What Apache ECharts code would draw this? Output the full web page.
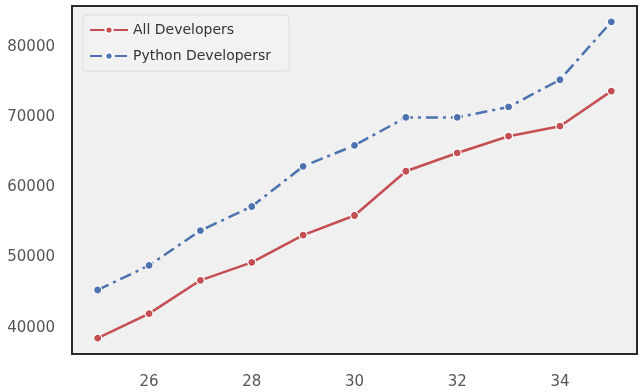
<!DOCTYPE html>
<html><head><meta charset="utf-8">
<script src="https://cdn.jsdelivr.net/npm/echarts@6/dist/echarts.min.js"></script>
<style>html,body{margin:0;padding:0;background:#fff}#c{width:643px;height:392px}</style>
</head><body><div id="c"></div>
<script>
const ages = [25, 26, 27, 28, 29, 30, 31, 32, 33, 34, 35];
const allDevs = [38496, 42000, 46752, 49320, 53200, 56000, 62316, 64928, 67317, 68748, 73752];
const pyDevs = [45372, 48876, 53850, 57287, 63016, 65998, 70003, 70000, 71496, 75370, 83640];
const xTicks = [26, 28, 30, 32, 34];
const yTicks = [40000, 50000, 60000, 70000, 80000];
const seriesNames = ['All Developers', 'Python Developersr'];

const chart = echarts.init(document.getElementById('c'), null, {renderer: 'canvas'});
const font = 'DejaVu Sans';
function pairs(ys){ return ages.map((a,i)=>[a, ys[i]]); }
chart.setOption({
  animation: false,
  backgroundColor: '#fff',
  grid: {left: 72, right: 6, top: 6, bottom: 38, show: true, backgroundColor: '#f0f0f0', borderColor: '#2a2a2a', borderWidth: 2},
  legend: {
    left: 83, top: 15, orient: 'vertical',
    backgroundColor: '#f2f2f2', borderColor: '#dcdcdc', borderWidth: 1, borderRadius: 3,
    padding: [8, 18, 8, 6], itemGap: 12, itemWidth: 38, itemHeight: 9,
    textStyle: {fontFamily: font, fontSize: 14, color: '#333'},
    data: seriesNames
  },
  xAxis: {
    type: 'value', min: 24.5, max: 35.5,
    axisLine: {show: false}, splitLine: {show: false},
    axisTick: {show: false, customValues: xTicks},
    axisLabel: {customValues: xTicks, color: '#555', fontFamily: font, fontSize: 15, margin: 21,
                formatter: v => String(v)}
  },
  yAxis: {
    type: 'value', min: 36239, max: 85897,
    axisLine: {show: false}, splitLine: {show: false},
    axisTick: {show: false, customValues: yTicks},
    axisLabel: {customValues: yTicks, color: '#555', fontFamily: font, fontSize: 15, margin: 17,
                formatter: v => String(v)}
  },
  series: [
    {name: seriesNames[0], type: 'line', data: pairs(allDevs), symbol: 'circle', symbolSize: 8,
     lineStyle: {color: '#c44e52', width: 2.5},
     itemStyle: {color: '#c44e52', borderColor: '#fff', borderWidth: 1.2}},
    {name: seriesNames[1], type: 'line', data: pairs(pyDevs), symbol: 'circle', symbolSize: 8,
     lineStyle: {color: '#4c72b0', width: 2.5, type: [12, 5, 3, 5]},
     itemStyle: {color: '#4c72b0', borderColor: '#fff', borderWidth: 1.2}}
  ]
});
</script></body></html>
